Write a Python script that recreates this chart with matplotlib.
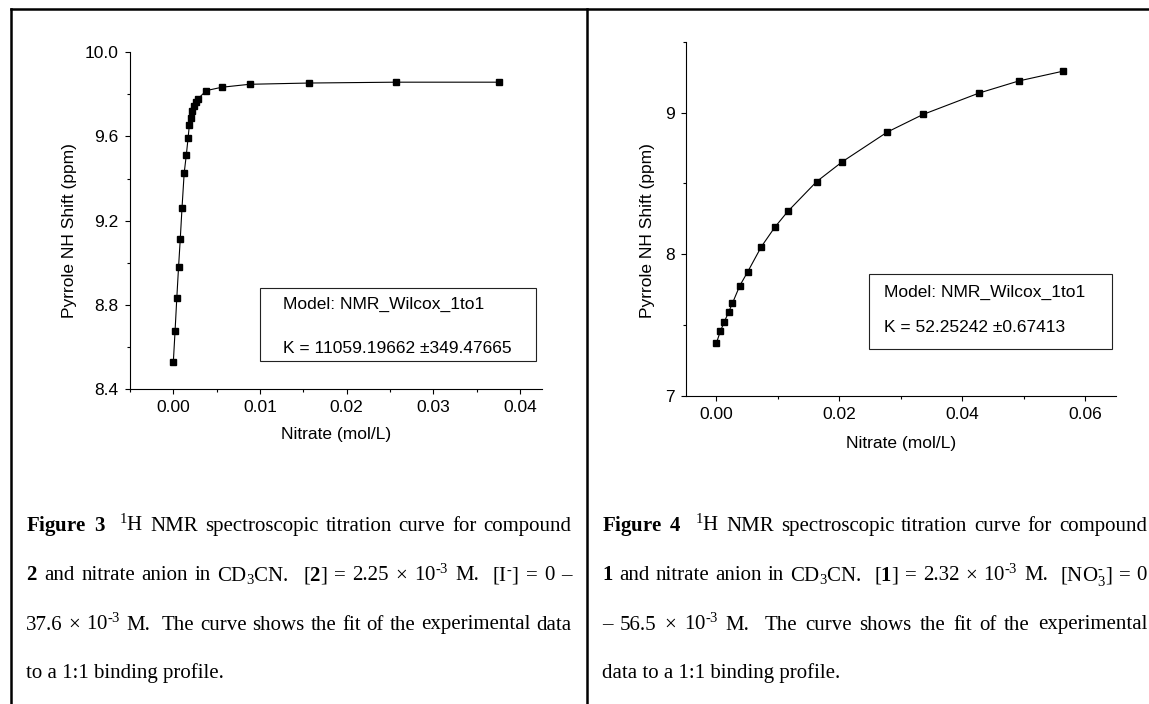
import matplotlib
matplotlib.use('Agg')
import matplotlib.pyplot as plt
from matplotlib.lines import Line2D
from matplotlib.patches import Rectangle
from matplotlib.ticker import MultipleLocator, FormatStrFormatter

plt.rcParams['font.family'] = ['Liberation Sans', 'DejaVu Sans']
plt.rcParams['mathtext.fontset'] = 'custom'
plt.rcParams['mathtext.rm'] = 'Liberation Serif'
plt.rcParams['mathtext.it'] = 'Liberation Serif:italic'
plt.rcParams['mathtext.bf'] = 'Liberation Serif:bold'

# --- data ---
# Figure 3: compound 2 + nitrate
nitrate_3 = [0.0, 0.0002, 0.0004, 0.0006, 0.0008, 0.0010, 0.00125, 0.0015, 0.0017,
             0.00185, 0.0020, 0.0022, 0.0024, 0.0026, 0.0028, 0.0038, 0.0056,
             0.0088, 0.0157, 0.0257, 0.0376]
shift_3 = [8.529, 8.676, 8.833, 8.978, 9.113, 9.260, 9.426, 9.513, 9.592,
           9.655, 9.690, 9.721, 9.745, 9.764, 9.777, 9.818, 9.834,
           9.848, 9.854, 9.858, 9.858]
# Figure 4: compound 1 + nitrate
nitrate_4 = [0.0, 0.00065, 0.0013, 0.0020, 0.0026, 0.0038, 0.0051, 0.0073, 0.0095,
             0.0116, 0.0163, 0.0205, 0.0278, 0.0336, 0.0427, 0.0492, 0.0564]
shift_4 = [7.373, 7.456, 7.524, 7.592, 7.653, 7.777, 7.876, 8.052, 8.190,
           8.301, 8.512, 8.653, 8.862, 8.986, 9.137, 9.223, 9.292]

model_txt = "Model: NMR_Wilcox_1to1"
k_txt_3 = "K = 11059.19662 \u00b1349.47665"
k_txt_4 = "K = 52.25242 \u00b10.67413"
xlab = "Nitrate (mol/L)"
ylab = "Pyrrole NH Shift (ppm)"

cap3 = [
    r"$\mathbf{Figure}$ $\mathbf{3}$  $^{1}$H NMR spectroscopic titration curve for compound",
    r"$\mathbf{2}$ and nitrate anion in CD$_{3}$CN.  [$\mathbf{2}$] = 2.25 × 10$^{\text{-}3}$ M.  [I$^{\text{-}}$] = 0 –",
    r"37.6 × 10$^{\text{-}3}$ M.  The curve shows the fit of the experimental data",
    r"to a 1:1 binding profile.",
]
cap4 = [
    r"$\mathbf{Figure}$ $\mathbf{4}$  $^{1}$H NMR spectroscopic titration curve for compound",
    r"$\mathbf{1}$ and nitrate anion in CD$_{3}$CN.  [$\mathbf{1}$] = 2.32 × 10$^{\text{-}3}$ M.  [NO$_{3}^{\text{-}}$] = 0",
    r"– 56.5 × 10$^{\text{-}3}$ M.  The curve shows the fit of the experimental",
    r"data to a 1:1 binding profile.",
]

W, H = 1149, 704
fig = plt.figure(figsize=(W / 100, H / 100), dpi=100)


def pbox(l, t, r, b):
    return [l / W, 1 - b / H, (r - l) / W, (b - t) / H]


def fx(x):
    return x / W


def fy(y):
    return 1 - y / H


FS = 12.5

ax1 = fig.add_axes(pbox(130, 52.3, 541.7, 389))
ax2 = fig.add_axes(pbox(685.7, 41.7, 1116, 395.7))

for ax in (ax1, ax2):
    ax.spines['top'].set_visible(False)
    ax.spines['right'].set_visible(False)
    for s in ('left', 'bottom'):
        ax.spines[s].set_linewidth(0.8)
    ax.tick_params(which='major', direction='out', length=3.6, width=0.8,
                   labelsize=FS, pad=4.5)
    ax.tick_params(which='minor', direction='out', length=2.4, width=0.8)

ax1.plot(nitrate_3, shift_3, color='black', lw=0.8, marker='s', ms=4.8)
ax1.set_xlim(-0.005, 0.0425)
ax1.set_ylim(8.4, 10.0)
ax1.xaxis.set_major_locator(MultipleLocator(0.01))
ax1.xaxis.set_minor_locator(MultipleLocator(0.005))
ax1.yaxis.set_major_locator(MultipleLocator(0.4))
ax1.yaxis.set_minor_locator(MultipleLocator(0.2))
ax1.xaxis.set_major_formatter(FormatStrFormatter('%.2f'))
ax1.yaxis.set_major_formatter(FormatStrFormatter('%.1f'))

ax2.plot(nitrate_4, shift_4, color='black', lw=0.8, marker='s', ms=4.8)
ax2.set_xlim(-0.005, 0.065)
ax2.set_ylim(7, 9.5)
ax2.xaxis.set_major_locator(MultipleLocator(0.02))
ax2.xaxis.set_minor_locator(MultipleLocator(0.01))
ax2.yaxis.set_major_locator(MultipleLocator(1))
ax2.yaxis.set_minor_locator(MultipleLocator(0.5))
ax2.xaxis.set_major_formatter(FormatStrFormatter('%.2f'))
ax2.yaxis.set_major_formatter(FormatStrFormatter('%d'))

# axis labels
ax1.set_xlabel(xlab, fontsize=FS)
ax1.xaxis.set_label_coords(0.5, (389 - 427) / 336.7)
ax1.set_ylabel(ylab, fontsize=FS)
ax1.yaxis.set_label_coords((77 - 130) / 411.7, (389 - 231) / 336.7)

ax2.set_xlabel(xlab, fontsize=FS)
ax2.xaxis.set_label_coords(0.5, (395.7 - 436) / 354)
ax2.set_ylabel(ylab, fontsize=FS)
ax2.yaxis.set_label_coords((655 - 685.7) / 430.3, (395.7 - 231) / 354)

# fit result boxes
for (l, t, r, b), tx, y1, y2, k in [((260, 287.5, 536.4, 360.5), 283, 309.3, 353.3, k_txt_3),
                                    ((869, 274, 1111.6, 348.7), 884.5, 296.7, 332.3, k_txt_4)]:
    fig.add_artist(Rectangle((fx(l), fy(b)), (r - l) / W, (b - t) / H,
                             transform=fig.transFigure, fill=False,
                             ec='#222222', lw=0.8))
    fig.text(fx(tx), fy(y1), model_txt, fontsize=FS, va='baseline')
    fig.text(fx(tx), fy(y2), k, fontsize=FS, va='baseline')

# table rules
LW = 1.8
fig.add_artist(Line2D([fx(11), 1], [fy(8.7), fy(8.7)], color='black', lw=LW))
fig.add_artist(Line2D([fx(11), fx(11)], [fy(8.7), 0], color='black', lw=LW))
fig.add_artist(Line2D([fx(586.7), fx(586.7)], [fy(8.7), 0], color='black', lw=LW))

# captions, justified like the word processor did
CFS = 15
renderer = fig.canvas.get_renderer()


def caption(lines, x0, x1, baselines):
    for i, (line, yb) in enumerate(zip(lines, baselines)):
        if i == len(lines) - 1:
            fig.text(fx(x0), fy(yb), line, fontsize=CFS, family='Liberation Serif',
                     va='baseline')
            continue
        toks = line.split(' ')
        arts, widths = [], []
        for tok in toks:
            if tok == '':
                arts.append(None)
                widths.append(0)
                continue
            t = fig.text(0, fy(yb), tok, fontsize=CFS, family='Liberation Serif',
                         va='baseline')
            arts.append(t)
            widths.append(t.get_window_extent(renderer).width)
        gap = (x1 - x0 - sum(widths)) / (len(toks) - 1)
        x = x0
        for t, w in zip(arts, widths):
            if t is not None:
                t.set_x(fx(x))
            x += w + gap


base = [531, 580.5, 629.5, 678]
caption(cap3, 26, 571.5, base)
caption(cap4, 601.7, 1147, base)

fig.savefig('out.png', dpi=100)
